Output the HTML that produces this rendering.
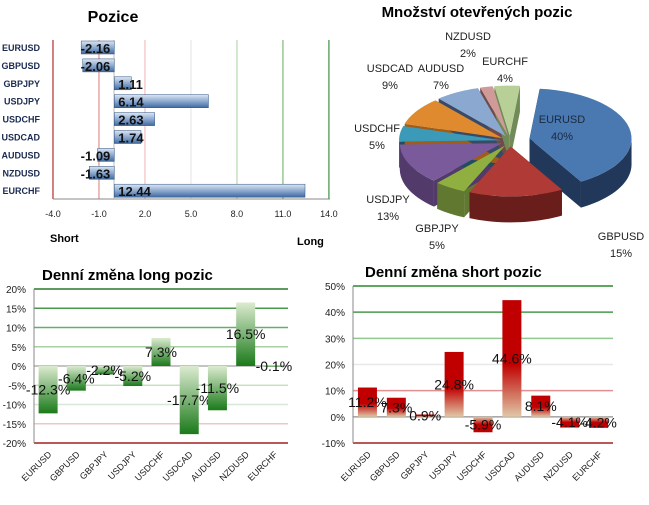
<!DOCTYPE html>
<html><head><meta charset="utf-8"><style>
body{margin:0;background:#fff;width:649px;height:505px;overflow:hidden}
svg{position:absolute;left:0;top:0}
text{font-family:"Liberation Sans",sans-serif}
</style></head><body>
<svg id="s" width="649" height="505">
<defs>
<linearGradient id="gb" x1="0" y1="0" x2="0" y2="1"><stop offset="0" stop-color="#dce6f2"/><stop offset="0.5" stop-color="#8eaad0"/><stop offset="1" stop-color="#3d6aa0"/></linearGradient>
<linearGradient id="gp" x1="0" y1="0" x2="0" y2="1"><stop offset="0" stop-color="#dcebd0"/><stop offset="1" stop-color="#1a7a1a"/></linearGradient>
<linearGradient id="gn" x1="0" y1="0" x2="0" y2="1"><stop offset="0" stop-color="#dcebd0"/><stop offset="1" stop-color="#1a7a1a"/></linearGradient>
<linearGradient id="rp" x1="0" y1="0" x2="0" y2="1"><stop offset="0" stop-color="#c00000"/><stop offset="0.55" stop-color="#c00000"/><stop offset="1" stop-color="#e0c8a8"/></linearGradient>
<linearGradient id="rn" x1="0" y1="0" x2="0" y2="1"><stop offset="0" stop-color="#e0c8a8"/><stop offset="0.5" stop-color="#c00000"/><stop offset="1" stop-color="#c00000"/></linearGradient>
</defs>
</svg>
<script>
const pairs=['EURUSD','GBPUSD','GBPJPY','USDJPY','USDCHF','USDCAD','AUDUSD','NZDUSD','EURCHF'];
const positions=[-2.16,-2.06,1.11,6.14,2.63,1.74,-1.09,-1.63,12.44];
const posTicks=[-4,-1,2,5,8,11,14];
const pieLabels=['EURUSD','GBPUSD','GBPJPY','USDJPY','USDCHF','USDCAD','AUDUSD','NZDUSD','EURCHF'];
const pieValues=[40,15,5,13,5,9,7,2,4];
const longChange=[-12.3,-6.4,-2.2,-5.2,7.3,-17.7,-11.5,16.5,-0.1];
const longTicks=[20,15,10,5,0,-5,-10,-15,-20];
const shortChange=[11.2,7.3,0.9,24.8,-5.9,44.6,8.1,-4.1,-4.2];
const shortTicks=[50,40,30,20,10,0,-10];
const S=document.getElementById('s');const NS='http://www.w3.org/2000/svg';
function mk(t,a,txt){const e=document.createElementNS(NS,t);for(const k in a)e.setAttribute(k,a[k]);if(txt!==undefined)e.textContent=txt;S.appendChild(e);return e;}
// ---- Pozice ----
const px=v=>114.3+(v)*15.33, py=i=>48+i*17.9;
let t=mk('text',{x:113,y:22,'font-size':16,'font-weight':'bold','text-anchor':'middle'},'Pozice');

const vcol=['#b03030','#e09090','#f0c0c0','#e8e8e8','#b8d8b0','#80b878','#409040'];
posTicks.forEach((v,i)=>{let l=mk('line',{x1:px(v),x2:px(v),y1:40,y2:199,stroke:vcol[i],'stroke-width':1.2});

let tl=mk('text',{x:px(v),y:217,'font-size':9,'text-anchor':'middle',fill:'#222'},v.toFixed(1));
});
mk('line',{x1:53,x2:330,y1:199,y2:199,stroke:'#888'});
mk('line',{x1:114,x2:114,y1:40,y2:199,stroke:'#bbb'});
pairs.forEach((p,i)=>{const y=py(i);
let c=mk('text',{x:40,y:y+3,'font-size':9,'font-weight':'bold','text-anchor':'end',fill:'#1a2a50'},p);

const v=positions[i],x0=Math.min(px(0),px(v)),w=Math.abs(px(v)-px(0));
let b=mk('rect',{x:x0,y:y-7,width:w,height:13,fill:'url(#gb)',stroke:'#2d5080','stroke-width':0.5});

let vl=mk('text',{x:v<0?px(0)-4:px(0)+4,y:y+5,'font-size':13,'font-weight':'bold','text-anchor':v<0?'end':'start',fill:'#111'},v.toFixed(2));
});
t=mk('text',{x:50,y:242,'font-size':11,'font-weight':'bold'},'Short');
t=mk('text',{x:297,y:245,'font-size':11,'font-weight':'bold'},'Long');
// ---- Pie ----
t=mk('text',{x:477,y:17,'font-size':15,'font-weight':'bold','text-anchor':'middle'},'Množství otevřených pozic');

const pcol=['#4a78b0','#b03a36','#8fb040','#7a5a9a','#3a9ab8','#e08a30','#8aa8d0','#d09a98','#b8d098'];
const pdark=['#22385a','#6a1e1c','#607830','#523a6a','#1f4f5e','#a05c18','#3a4a66','#704a48','#708a58'];
const labPos=[[562,123],[621,240],[437,232],[388,203],[377,132],[390,72],[441,72],[468,40],[505,65]];
const cx=510,cy=141,rx=102,ry=50,dp=26;let tot=pieValues.reduce((a,b)=>a+b,0);
let ang=-Math.PI/2+0.1;const sl=[];
pieValues.forEach((v,i)=>{const a2=ang+v/tot*2*Math.PI;const m=(ang+a2)/2;const ex=i==0?20:9;sl.push({a1:ang,a2,m,ox:Math.cos(m)*ex,oy:Math.sin(m)*ex*0.6});ang=a2;});
const P=(a,ox,oy,d)=>[cx+ox+rx*Math.cos(a),cy+oy+ry*Math.sin(a)+d];
sl.forEach((s,i)=>{[s.a1,s.a2].forEach(a=>{const q=P(a,s.ox,s.oy,0);const c0=[cx+s.ox,cy+s.oy];
let e=mk('path',{d:`M${c0[0]},${c0[1]}L${q[0]},${q[1]}L${q[0]},${q[1]+dp}L${c0[0]},${c0[1]+dp}Z`,fill:pdark[i]});});});
sl.forEach((s,i)=>{let lo=s.a1,hi=s.a2;
const segs=[[Math.max(lo,0),Math.min(hi,Math.PI)],[Math.max(lo,2*Math.PI),Math.min(hi,3*Math.PI)]];
segs.forEach(([u,w])=>{if(w<=u)return;let d='';const N=20;
for(let k=0;k<=N;k++){const q=P(u+(w-u)*k/N,s.ox,s.oy,0);d+=(k?'L':'M')+q[0]+','+q[1];}
for(let k=N;k>=0;k--){const q=P(u+(w-u)*k/N,s.ox,s.oy,dp);d+='L'+q[0]+','+q[1];}
let e=mk('path',{d:d+'Z',fill:pdark[i]});});});
sl.forEach((s,i)=>{const N=30;let d=`M${cx+s.ox},${cy+s.oy}`;
for(let k=0;k<=N;k++){const q=P(s.a1+(s.a2-s.a1)*k/N,s.ox,s.oy,0);d+='L'+q[0]+','+q[1];}
let e=mk('path',{d:d+'Z',fill:pcol[i]});

const lx=labPos[i][0],ly=labPos[i][1];
let l=mk('text',{x:lx,y:ly,'font-size':11,'text-anchor':'middle',fill:i==0?'#1a2a40':'#222'});

const t1=document.createElementNS(NS,'tspan');t1.setAttribute('x',lx);t1.textContent=pieLabels[i];l.appendChild(t1);
const t2=document.createElementNS(NS,'tspan');t2.setAttribute('x',lx);t2.setAttribute('dy',17);t2.textContent=pieValues[i]+'%';l.appendChild(t2);});
// ---- column charts ----
function col(cfg){const {title,tx,x0,x1,ymax,ymin,yTop,yBot,ticks,vals,gp,gn,grid,name}=cfg;
const sy=v=>yTop+(ymax-v)/(ymax-ymin)*(yBot-yTop);const slot=(x1-x0)/vals.length;
let t=mk('text',{x:tx,y:yTop-9,'font-size':15,'font-weight':'bold'},title);
ticks.forEach((v,i)=>{let g=mk('line',{x1:x0,x2:x1,y1:sy(v),y2:sy(v),stroke:grid[i],'stroke-width':v==0?1:1.5});

let l=mk('text',{x:x0-8,y:sy(v)+4,'font-size':10,'text-anchor':'end',fill:'#222'},v+'%');
});
mk('line',{x1:x0,x2:x0,y1:yTop,y2:yBot,stroke:'#888'});mk('line',{x1:x0,x2:x1,y1:sy(0),y2:sy(0),stroke:'#888'});
vals.forEach((v,i)=>{const c=x0+slot*(i+0.5);const y=Math.min(sy(v),sy(0)),h=Math.abs(sy(v)-sy(0));
let b=mk('rect',{x:c-9.5,y:y,width:19,height:Math.max(h,1),fill:v>=0?gp:gn});

let l=mk('text',{x:c,y:sy(v/2)+5,'font-size':14,'text-anchor':'middle',fill:'#111'},v.toFixed(1)+'%');

let cl=mk('text',{x:c+4,y:yBot+12,'font-size':9,'text-anchor':'end',fill:'#222',transform:`rotate(-45 ${c+4} ${yBot+12})`},pairs[i]);
});}
col({title:'Denní změna long pozic',tx:42,x0:34,x1:288,ymax:20,ymin:-20,yTop:289,yBot:443,ticks:longTicks,vals:longChange,gp:'url(#gp)',gn:'url(#gn)',
grid:['#2a7a2a','#4a9a4a','#6aaa6a','#a8d0a0','#888','#c8e0c0','#d8e8d8','#e8c8c8','#a02020'],name:'long-change'});
col({title:'Denní změna short pozic',tx:365,x0:353,x1:613,ymax:50,ymin:-10,yTop:286,yBot:443,ticks:shortTicks,vals:shortChange,gp:'url(#rp)',gn:'url(#rn)',
grid:['#2a8a2a','#4a9a4a','#90c890','#e8e8e8','#e09090','#888','#a02020'],name:'short-change'});
</script>
</body></html>
